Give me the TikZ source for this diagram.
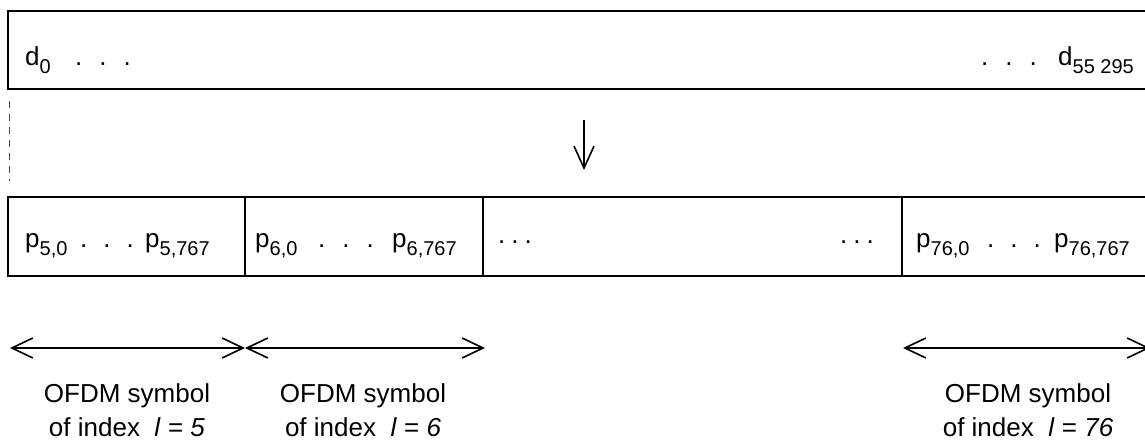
\documentclass[tikz,border=0pt]{standalone}
\usepackage{fontspec}
\setmainfont{Liberation Sans}
\usetikzlibrary{arrows.meta}
\newcommand{\sbs}[1]{\raisebox{-8pt}{\fontsize{20}{20}\selectfont #1}}
\newcommand{\tdots}{.\hspace{17pt}.\hspace{17pt}.}
\begin{document}
\begin{tikzpicture}[x=1pt,y=-1pt,
  box/.style={draw,line width=2pt,inner sep=0pt,outer sep=0pt,anchor=north west},
  txt/.style={inner sep=0pt,anchor=base west,font=\fontsize{26}{26}\selectfont},
  lbl/.style={inner sep=0pt,align=center,font=\fontsize{26}{34}\selectfont},
  span/.style={line width=1.6pt,{Straight Barb[length=21pt,width=20pt]}-{Straight Barb[length=21pt,width=20pt]}},
  down/.style={line width=1.6pt,-{Straight Barb[length=22pt,width=20pt]}}]
\useasboundingbox (0,0) rectangle (1145,443);
\clip (0,0) rectangle (1145,443);
% top box
\node[box,minimum width=1145pt,minimum height=78pt] (topbox) at (8,11) {};
\node[txt] (d0) at (25,66) {d\sbs{0}};
\node[txt] (d0d) at (75,66) {\tdots};
\node[txt,anchor=base east] (dn) at (1134,66) {d\sbs{55 295}};
\node[txt] (dnd) at (981,66) {\tdots};
% dashed line
\coordinate (dsA) at (9,101);
\coordinate (dsB) at (9,181);
\draw[line width=0.8pt,black!70,dash pattern=on 7pt off 6pt] (dsA) -- (dsB);
% down arrow
\coordinate (arA) at (584,120);
\coordinate (arB) at (584,170);
\draw[down] (arA) -- (arB);
% bottom cells
\node[box,minimum width=237pt,minimum height=79pt] (c1) at (8,197) {};
\node[box,minimum width=238pt,minimum height=79pt] (c2) at (245,197) {};
\node[box,minimum width=419pt,minimum height=79pt] (c3) at (483,197) {};
\node[box,minimum width=250pt,minimum height=79pt] (c4) at (902,197) {};
\node[txt] (p5a) at (25,248) {p\sbs{5,0}};
\node[txt] (p5d) at (80,248) {.\hspace{16pt}.\hspace{16pt}.};
\node[txt] (p5b) at (145,248) {p\sbs{5,767}};
\node[txt] (p6a) at (255,248) {p\sbs{6,0}};
\node[txt] (p6d) at (318,248) {\tdots};
\node[txt] (p6b) at (392,248) {p\sbs{6,767}};
\node[txt] (m1) at (498,244) {.\hspace{6pt}.\hspace{6pt}.};
\node[txt] (m2) at (840,244) {.\hspace{6pt}.\hspace{6pt}.};
\node[txt] (p76a) at (916,248) {p\sbs{76,0}};
\node[txt] (p76d) at (987,248) {.\hspace{16pt}.\hspace{16pt}.};
\node[txt] (p76b) at (1054,248) {p\sbs{76,767}};
% span arrows
\coordinate (s1a) at (10,348);
\coordinate (s1b) at (245,348);
\coordinate (s2a) at (245,348);
\coordinate (s2b) at (485,348);
\coordinate (s3a) at (903,348);
\coordinate (s3b) at (1150,348);
\draw[span] (s1a) -- (s1b);
\draw[span] (s2a) -- (s2b);
\draw[span] (s3a) -- (s3b);
% labels
\node[lbl] (L1) at (127,410) {OFDM symbol\\of index\ \ \textit{l} = \textit{5}};
\node[lbl] (L2) at (363,410) {OFDM symbol\\of index\ \ \textit{l} = \textit{6}};
\node[lbl] (L3) at (1028,410) {OFDM symbol\\of index\ \ \textit{l} = \textit{76}};
\end{tikzpicture}
\end{document}
